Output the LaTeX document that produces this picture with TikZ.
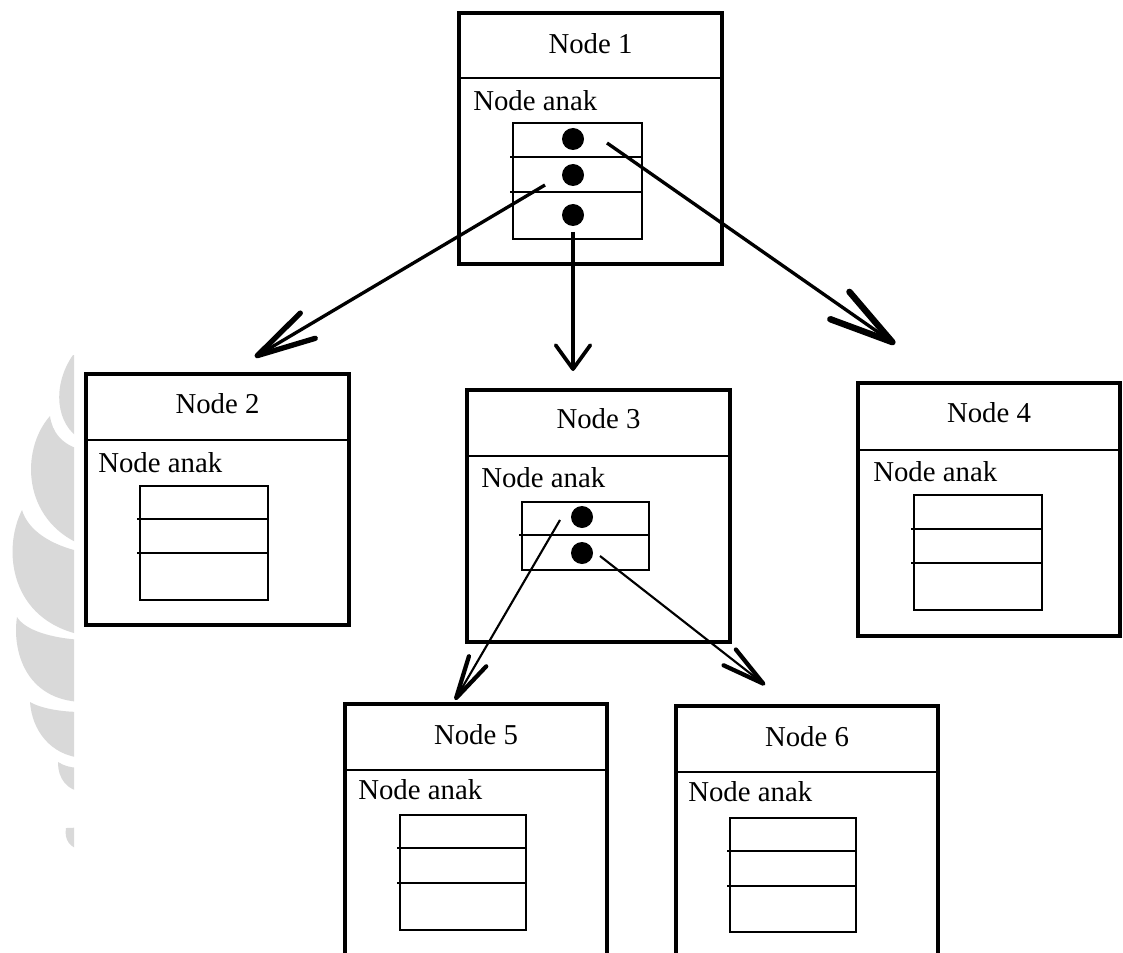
\documentclass[tikz,border=0pt]{standalone}
\usepackage{fontspec}
\setmainfont{Liberation Serif}
\usetikzlibrary{arrows.meta,fit}
\begin{document}
\begin{tikzpicture}[x=0.75pt,y=-0.75pt,
  nodeframe/.style={draw, line width=3.2pt, inner sep=0pt, outer sep=0pt},
  slotbox/.style={draw, line width=2pt, inner sep=0pt, outer sep=0pt},
  divider/.style={line width=2pt},
  slotline/.style={line width=1.6pt},
  headtext/.style={font=\fontsize{21.6}{26}\selectfont, inner sep=0pt},
  anaktext/.style={font=\fontsize{21.6}{26}\selectfont, inner sep=0pt, anchor=west},
  ptrdot/.style={circle, fill=black, minimum size=16.5pt, inner sep=0pt},
  ptrleft/.style={line width=2.5pt, -{Straight Barb[length=44pt,width=22pt,line width=4pt,round]}},
  ptrdown/.style={line width=2.5pt, -{Straight Barb[length=18pt,width=26pt,line width=2.8pt,round]}},
  ptrright/.style={line width=2.5pt, -{Straight Barb[length=48pt,width=25pt,line width=4.8pt,round]}},
  ptrsmall/.style={line width=1.6pt, -{Straight Barb[length=32pt,width=15pt,line width=3.2pt,round]}},
  logo/.style={fill=black!15, draw=none}
]
\useasboundingbox (0,0) rectangle (1123,952);
\fill[white] (0,0) rectangle (1123,952);
\clip (0,0) rectangle (1123,952);

% faded logo at the left margin
\begin{scope}
  \clip (0,340) rectangle (74,860);
  \path[logo] (73,355) .. controls (52,385) and (55,425) .. (82,440) -- (82,355) -- cycle;
  \path[logo] (50,416) .. controls (20,450) and (22,520) .. (82,545) -- (82,450)
        .. controls (62,445) and (52,432) .. (50,416) -- cycle;
  \path[logo] (22,510) .. controls (2,550) and (10,620) .. (82,635) -- (82,552)
        .. controls (50,545) and (28,530) .. (22,510) -- cycle;
  \path[logo] (17,617) .. controls (12,650) and (25,700) .. (82,702) -- (82,640)
        .. controls (50,638) and (25,630) .. (17,617) -- cycle;
  \path[logo] (30,702) .. controls (32,730) and (50,755) .. (82,758) -- (82,712)
        .. controls (60,712) and (40,708) .. (30,702) -- cycle;
  \path[logo] (58,762) .. controls (58,780) and (68,790) .. (82,792) -- (82,768)
        .. controls (72,768) and (64,766) .. (58,762) -- cycle;
  \path[logo] (66,828) .. controls (64,840) and (70,848) .. (82,850) -- (82,826)
        .. controls (76,828) and (70,828) .. (66,828) -- cycle;
\end{scope}

% ---------- Node 1 ----------
\node[nodeframe, fit={(459,13) (722,264)}] (n1) {};
\draw[divider] (459,78) -- (722,78);
\node[headtext] (n1h) at (590.5,44) {Node 1};
\node[anaktext] (n1a) at (473,101) {Node anak};
\node[slotbox, fit={(513,123) (642,239)}] (n1s) {};
\draw[slotline] (510,157) -- (642,157);
\draw[slotline] (510,192) -- (642,192);
\node[ptrdot] (n1p1) at (573,139) {};
\node[ptrdot] (n1p2) at (573,175) {};
\node[ptrdot] (n1p3) at (573,215) {};

% ---------- Node 2 ----------
\node[nodeframe, fit={(86,374) (349,625)}] (n2) {};
\draw[divider] (86,440) -- (349,440);
\node[headtext] (n2h) at (217.5,404) {Node 2};
\node[anaktext] (n2a) at (98,463) {Node anak};
\node[slotbox, fit={(140,486) (268,600)}] (n2s) {};
\draw[slotline] (137,519) -- (268,519);
\draw[slotline] (137,553) -- (268,553);

% ---------- Node 3 ----------
\node[nodeframe, fit={(467,390) (730,642)}] (n3) {};
\draw[divider] (467,456) -- (730,456);
\node[headtext] (n3h) at (598.5,419) {Node 3};
\node[anaktext] (n3a) at (481,478) {Node anak};
\node[slotbox, fit={(522,502) (649,570)}] (n3s) {};
\draw[slotline] (519,535) -- (649,535);
\node[ptrdot] (n3p1) at (582,517) {};
\node[ptrdot] (n3p2) at (582,553) {};

% ---------- Node 4 ----------
\node[nodeframe, fit={(858,383) (1120,636)}] (n4) {};
\draw[divider] (858,450) -- (1120,450);
\node[headtext] (n4h) at (989,413) {Node 4};
\node[anaktext] (n4a) at (873,472) {Node anak};
\node[slotbox, fit={(914,495) (1042,610)}] (n4s) {};
\draw[slotline] (911,529) -- (1042,529);
\draw[slotline] (911,563) -- (1042,563);

% ---------- Node 5 ----------
\node[nodeframe, fit={(345,704) (607,975)}] (n5) {};
\draw[divider] (345,770) -- (607,770);
\node[headtext] (n5h) at (476,735) {Node 5};
\node[anaktext] (n5a) at (358,790) {Node anak};
\node[slotbox, fit={(400,815) (526,930)}] (n5s) {};
\draw[slotline] (397,848) -- (526,848);
\draw[slotline] (397,883) -- (526,883);

% ---------- Node 6 ----------
\node[nodeframe, fit={(676,706) (938,975)}] (n6) {};
\draw[divider] (676,772) -- (938,772);
\node[headtext] (n6h) at (807,737) {Node 6};
\node[anaktext] (n6a) at (688,792) {Node anak};
\node[slotbox, fit={(730,818) (856,932)}] (n6s) {};
\draw[slotline] (727,851) -- (856,851);
\draw[slotline] (727,886) -- (856,886);

% ---------- pointers ----------
\coordinate (s12) at (545,185);
\coordinate (s13) at (573,232);
\coordinate (s14) at (607,143);
\coordinate (e2) at (255,357);
\coordinate (e3) at (573,371);
\coordinate (e4) at (895,344);
\coordinate (s35) at (560,520);
\coordinate (s36) at (600,556);
\coordinate (e5) at (455,700);
\coordinate (e6) at (765,685);

\draw[ptrleft] (s12) -- (e2);
\draw[ptrdown] (s13) -- (e3);
\draw[ptrright] (s14) -- (e4);
\draw[ptrsmall] (s35) -- (e5);
\draw[ptrsmall] (s36) -- (e6);
\end{tikzpicture}
\end{document}
